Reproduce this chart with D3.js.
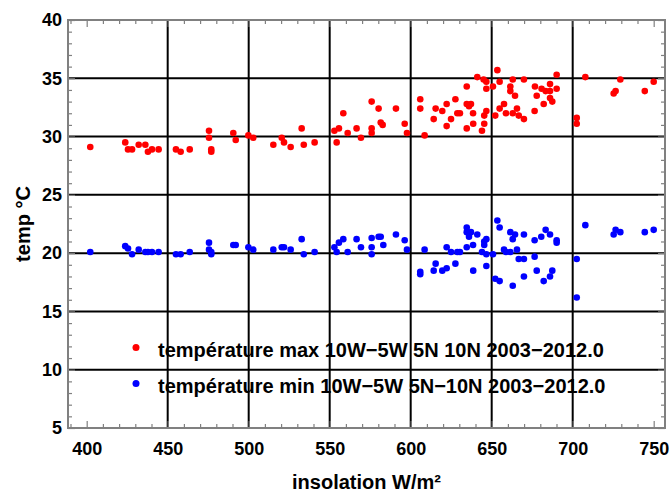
<!DOCTYPE html>
<html>
<head>
<meta charset="utf-8">
<script src="https://cdn.jsdelivr.net/npm/d3@7"></script>
<style>
  body { margin: 0; background: #ffffff; }
  text { font-family: "Liberation Sans", Arial, sans-serif; font-weight: bold; }
</style>
</head>
<body>
<script>
// Data: [insolation W/m², temperature °C]
let tmaxPoints = [
  [402.2, 29.1], [423.8, 29.5], [425.5, 28.9], [428, 28.9], [432.1, 29.3],
  [436.2, 29.3], [437.8, 28.7], [440.3, 28.9], [444.4, 28.9], [455.1, 28.9],
  [458, 28.7], [463.6, 28.9], [475.5, 30.5], [475.5, 29.9], [476.9, 28.9],
  [476.9, 28.7], [490.5, 30.3], [492, 29.7], [499.8, 30.1], [502.8, 29.9],
  [515.2, 29.3], [520.4, 29.9], [521.8, 29.5], [525.9, 29.1], [532.7, 30.7],
  [534, 29.3], [540.7, 29.5], [552.9, 30.5], [554.3, 29.5], [555.7, 30.7],
  [558.4, 32.0], [561.1, 30.3], [566.6, 30.7], [569.3, 29.9], [575.9, 33.0],
  [575.9, 30.7], [575.9, 30.3], [580.2, 32.4], [581.5, 31.2], [582.7, 31.0],
  [590.9, 32.4], [596.3, 31.1], [597.7, 30.3], [605.9, 33.2], [605.9, 32.4],
  [608.6, 30.1], [614.2, 31.5], [615.4, 32.4], [619.5, 32.2], [622.2, 32.8],
  [622.2, 30.9], [624.9, 31.5], [627.6, 33.2], [628.8, 32.0], [630.4, 32.0],
  [634.6, 34.3], [634.6, 32.8], [636, 32.6], [637.2, 32.8], [638.5, 32.0],
  [634.6, 30.7], [638.6, 31.1], [644, 30.5], [645.4, 31.1], [645.4, 31.8],
  [646.7, 32.2], [641.1, 35.1], [645, 34.9], [646.7, 34.7], [646.7, 34.1],
  [650.8, 34.3], [652.2, 31.8], [653.5, 35.7], [654.9, 34.7], [654.9, 32.4],
  [657.6, 32.8], [658.8, 32.0], [661.5, 34.3], [661.5, 33.9], [663, 34.9],
  [664.4, 33.5], [663, 32.0], [665.6, 32.4], [666.7, 31.8], [669.9, 34.9],
  [669.9, 31.5], [676.7, 34.3], [676.5, 32.2], [677.8, 33.5], [680.8, 34.1],
  [682.1, 32.8], [683.3, 33.9], [686, 34.5], [686, 33.9], [686, 33.3],
  [687.4, 33.0], [690.1, 34.1], [690.1, 35.3], [702.5, 31.6], [702.5, 31.1],
  [707.8, 35.1], [725.3, 33.7], [726.5, 33.9], [729.4, 34.9], [744.5, 33.9],
  [750, 34.7],
];

let tminPoints = [
  [402.2, 20.1], [423.8, 20.6], [425.5, 20.4], [428, 19.9], [432.1, 20.3],
  [436.2, 20.1], [437.8, 20.1], [440.3, 20.1], [444.4, 20.1], [455.1, 19.9],
  [458, 19.9], [463.6, 20.1], [475.5, 20.9], [475.5, 20.3], [476.9, 20.1],
  [476.9, 19.9], [490.5, 20.7], [492, 20.7], [499.8, 20.5], [502.8, 20.3],
  [515.2, 20.3], [520.4, 20.5], [521.8, 20.5], [525.9, 20.3], [532.7, 21.2],
  [534, 19.9], [540.7, 20.1], [552.9, 20.5], [554.3, 20.1], [555.7, 20.9],
  [558.4, 21.2], [561.1, 20.1], [566.6, 21.2], [569.3, 20.5], [575.9, 21.3],
  [575.9, 20.5], [575.9, 19.9], [580.2, 21.4], [581.5, 21.4], [583.1, 20.7],
  [590.9, 21.6], [596.3, 21.1], [597.7, 20.3], [605.9, 18.4], [605.9, 18.2],
  [608.6, 20.3], [614.2, 18.5], [615.4, 19.1], [619.5, 18.5], [622.2, 20.5],
  [622.2, 18.7], [624.9, 20.1], [627.6, 19.1], [628.8, 20.1], [630.4, 20.1],
  [634.6, 22.2], [634.6, 21.8], [636, 21.4], [637.2, 21.8], [638.5, 20.7],
  [634.6, 20.5], [638.6, 18.5], [641.1, 21.6], [644, 20.1], [645.4, 20.7],
  [645.4, 21.0], [646.7, 21.2], [646.7, 19.9], [646.7, 18.9], [650.8, 19.9],
  [652.2, 17.8], [653.5, 22.8], [654.9, 22.2], [654.9, 17.6], [657.6, 20.3],
  [658.8, 20.1], [661.5, 21.8], [661.5, 20.1], [663, 21.2], [664.4, 21.6],
  [665.6, 20.3], [666.7, 19.5], [663, 17.2], [669.9, 21.6], [669.9, 19.5],
  [669.9, 18.0], [676.5, 21.1], [676.5, 19.7], [677.8, 18.5], [680.6, 21.4],
  [683.3, 22.0], [682.1, 17.6], [686, 21.6], [686, 18.0], [687.4, 18.5],
  [690.1, 21.1], [690.1, 20.9], [702.5, 19.5], [702.5, 16.2], [707.8, 22.4],
  [725.3, 21.6], [726.5, 22.0], [729.4, 21.8], [744.5, 21.8], [750, 22.0],
];

let seriesNames = [
  "température max 10W\u22125W 5N 10N 2003\u22122012.0",
  "température min 10W\u22125W 5N\u221210N 2003\u22122012.0",
];
let seriesColors = ["#ff0000", "#0000ff"];

let xTicks = [400, 450, 500, 550, 600, 650, 700, 750];
let xGrid = [450, 500, 550, 600, 650, 700];
let yTicks = [5, 10, 15, 20, 25, 30, 35, 40];
let yGrid = [10, 15, 20, 25, 30, 35];

// Define dimensions
let width = 672;
let height = 495;
let margin = { top: 20, bottom: 67, left: 68, right: 7 };

let svg = d3
  .select("body")
  .append("svg")
  .attr("width", width)
  .attr("height", height);

let xScale = d3
  .scaleLinear()
  .domain([388.46, 756.98])
  .range([margin.left, width - margin.right]);

let yScale = d3
  .scaleLinear()
  .domain([5, 40])
  .range([height - margin.bottom, margin.top]);

let plotW = width - margin.left - margin.right;
let plotH = height - margin.top - margin.bottom;
let bottomY = height - margin.bottom;
let rightX = width - margin.right;

// Grid lines
svg
  .append("g")
  .selectAll("line")
  .data(xGrid)
  .join("line")
  .attr("x1", (d) => xScale(d))
  .attr("x2", (d) => xScale(d))
  .attr("y1", margin.top)
  .attr("y2", bottomY)
  .attr("stroke", "#000")
  .attr("stroke-width", 2);

svg
  .append("g")
  .selectAll("line")
  .data(yGrid)
  .join("line")
  .attr("x1", margin.left)
  .attr("x2", rightX)
  .attr("y1", (d) => yScale(d))
  .attr("y2", (d) => yScale(d))
  .attr("stroke", "#000")
  .attr("stroke-width", 2);

// Minor + major ticks on all four sides (inward)
let xMinor = d3.range(390, 757, 10).filter((d) => d % 50 !== 0);
let yMinor = d3.range(5, 41, 1).filter((d) => d % 5 !== 0);

function tickAxis(axis, values, size, transform) {
  let g = svg
    .append("g")
    .attr("transform", transform)
    .call(axis.tickValues(values).tickSize(-size).tickFormat(""));
  g.select(".domain").remove();
  g.selectAll(".tick line").attr("stroke", "#808080").attr("stroke-width", 1.2);
  return g;
}

tickAxis(d3.axisBottom(xScale), xMinor, 4, `translate(0, ${bottomY})`);
tickAxis(d3.axisBottom(xScale), xTicks, 7, `translate(0, ${bottomY})`);
tickAxis(d3.axisTop(xScale), xMinor, 4, `translate(0, ${margin.top})`);
tickAxis(d3.axisTop(xScale), xTicks, 7, `translate(0, ${margin.top})`);
tickAxis(d3.axisLeft(yScale), yMinor, 4, `translate(${margin.left}, 0)`);
tickAxis(d3.axisLeft(yScale), yTicks, 7, `translate(${margin.left}, 0)`);
tickAxis(d3.axisRight(yScale), yMinor, 4, `translate(${rightX}, 0)`);
tickAxis(d3.axisRight(yScale), yTicks, 7, `translate(${rightX}, 0)`);

// Tick labels
let xLabels = svg
  .append("g")
  .attr("transform", `translate(0, ${bottomY})`)
  .call(d3.axisBottom(xScale).tickValues(xTicks).tickSize(0).tickPadding(14));
xLabels.select(".domain").remove();
xLabels
  .selectAll("text")
  .style("font-size", "18px")
  .style("font-family", '"Liberation Sans", Arial, sans-serif')
  .attr("fill", "#000");

let yLabels = svg
  .append("g")
  .attr("transform", `translate(${margin.left}, 0)`)
  .call(d3.axisLeft(yScale).tickValues(yTicks).tickSize(0).tickPadding(6));
yLabels.select(".domain").remove();
yLabels
  .selectAll("text")
  .style("font-size", "18px")
  .style("font-family", '"Liberation Sans", Arial, sans-serif')
  .attr("fill", "#000");

// Frame
svg
  .append("rect")
  .attr("x", margin.left)
  .attr("y", margin.top)
  .attr("width", plotW)
  .attr("height", plotH)
  .attr("fill", "none")
  .attr("stroke", "#808080")
  .attr("stroke-width", 2);

// Points
[tmaxPoints, tminPoints].forEach((pts, i) => {
  svg
    .append("g")
    .selectAll("circle")
    .data(pts)
    .join("circle")
    .attr("cx", (d) => xScale(d[0]))
    .attr("cy", (d) => yScale(d[1]))
    .attr("r", 3.3)
    .attr("fill", seriesColors[i]);
});

// Legend
let legend = svg
  .append("g")
  .selectAll("g")
  .data(seriesNames)
  .join("g")
  .attr("transform", (d, i) => `translate(136, ${347.5 + i * 36})`);

legend
  .append("circle")
  .attr("r", 3.5)
  .attr("fill", (d, i) => seriesColors[i]);

legend
  .append("text")
  .attr("x", 22)
  .attr("y", 9.5)
  .text((d) => d)
  .style("font-size", "20px");

// Axis titles
svg
  .append("text")
  .attr("x", (margin.left + rightX) / 2)
  .attr("y", 489)
  .attr("text-anchor", "middle")
  .text("insolation W/m²")
  .style("font-size", "20px");

svg
  .append("text")
  .attr("transform", `translate(30, ${(margin.top + bottomY) / 2}) rotate(-90)`)
  .attr("text-anchor", "middle")
  .text("temp °C")
  .style("font-size", "20px");
</script>
</body>
</html>
